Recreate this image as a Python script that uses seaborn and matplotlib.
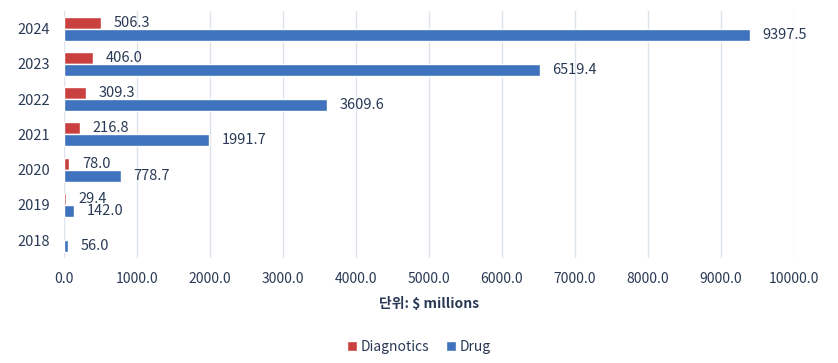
import matplotlib
matplotlib.use("Agg")
import matplotlib.pyplot as plt
import seaborn as sns
import pandas as pd

years = ["2024", "2023", "2022", "2021", "2020", "2019", "2018"]
diagnostics = [506.3, 406.0, 309.3, 216.8, 78.0, 29.4, None]
drug = [9397.5, 6519.4, 3609.6, 1991.7, 778.7, 142.0, 56.0]
series_names = ["Diagnotics", "Drug"]
x_ticks = [0, 1000, 2000, 3000, 4000, 5000, 6000, 7000, 8000, 9000, 10000]

rows = []
for y, d, g in zip(years, diagnostics, drug):
    rows.append({"year": y, "series": series_names[0], "value": d})
    rows.append({"year": y, "series": series_names[1], "value": g})
df = pd.DataFrame(rows)

sns.set_theme(style="white")
plt.rcParams['font.family'] = ['Noto Sans CJK KR', 'DejaVu Sans']

fig = plt.figure(figsize=(8.38, 3.63), dpi=100)
ax = fig.add_axes([0.076, 0.29, 0.8715, 0.68])

palette = {"Diagnotics": "#C9403F", "Drug": "#3F73BE"}
sns.barplot(data=df, y="year", x="value", hue="series", order=years,
            hue_order=series_names, palette=palette, orient="h",
            width=0.68, ax=ax, saturation=1, legend=True)

text_color = "#2a3a55"
for cont in ax.containers:
    labels = [f"{v:.1f}" if v == v else "" for v in cont.datavalues]
    ax.bar_label(cont, labels=labels, padding=9, fontsize=10.5, color=text_color)

ax.set_xlim(0, 10000)
ax.set_xticks(x_ticks)
ax.set_xticklabels([f"{t:.1f}" for t in x_ticks], fontsize=10, color=text_color)
ax.tick_params(axis="y", labelsize=10.5, labelcolor=text_color, length=0, pad=10)
ax.tick_params(axis="x", length=0, pad=10)
ax.set_ylabel("")
ax.set_xlabel("단위: $ millions", fontsize=10, fontweight="bold", color=text_color, labelpad=8)
ax.xaxis.grid(True, color="#dde3ea", linewidth=1)
ax.set_axisbelow(True)
for s in ax.spines.values():
    s.set_visible(False)

handles, labs = ax.get_legend_handles_labels()
ax.legend_.remove()
fig.legend(handles, labs, loc="center", bbox_to_anchor=(0.5, 0.045), ncol=2,
           frameon=False, fontsize=10, handlelength=0.7, handleheight=0.7,
           handletextpad=0.3, columnspacing=1.2, labelcolor=text_color)

fig.savefig("out.png", dpi=100)
